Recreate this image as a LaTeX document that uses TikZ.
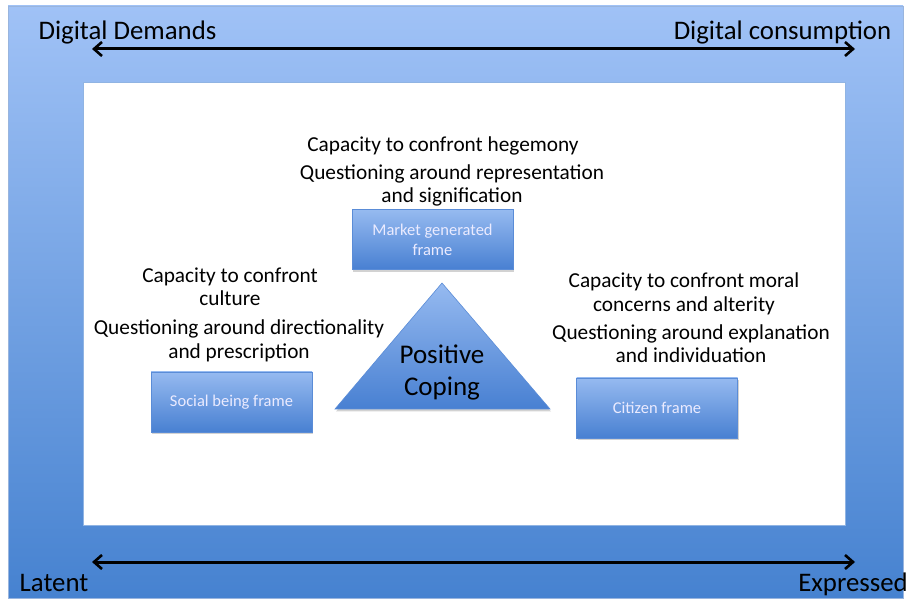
\documentclass[tikz,border=0pt]{standalone}
\usepackage{fontspec}
\setmainfont{Carlito}
\usetikzlibrary{shadows,arrows.meta}
\definecolor{bgtop}{RGB}{160,194,246}
\definecolor{bgbot}{RGB}{70,130,208}
\definecolor{bxtop}{RGB}{150,186,240}
\definecolor{bxbot}{RGB}{72,128,210}
\definecolor{bxline}{RGB}{90,140,215}
\tikzset{
  lbl/.style={anchor=base, inner sep=0pt, font=\fontsize{21.3}{25}\selectfont},
  corner/.style={anchor=base, inner sep=0pt, font=\fontsize{26.8}{30}\selectfont},
  frame/.style={draw=bxline, line width=0.6pt, top color=bxtop, bottom color=bxbot,
    drop shadow={opacity=0.35, shadow xshift=1pt, shadow yshift=-2.5pt},
    text=white!92!blue, font=\fontsize{16.5}{20}\selectfont, align=center,
    minimum width=161pt, minimum height=60pt, inner sep=0pt},
  axis/.style={line width=3pt, {Straight Barb[length=8pt,width=14pt,line width=2.6pt]}-{Straight Barb[length=8pt,width=14pt,line width=2.6pt]}}
}
\begin{document}
\begin{tikzpicture}[x=1pt,y=-1pt]
\useasboundingbox (0,0) rectangle (908,601);
\fill[white] (0,0) rectangle (908,601);
% outer gradient frame
\shade[top color=bgtop, bottom color=bgbot, draw=bgtop!80!gray, line width=0.5pt] (8,6) rectangle (903,598);
% inner white
\fill[white] (83,82) rectangle (845,525);
\draw[bgbot!60!white, line width=0.4pt] (83,82) rectangle (845,525);
% axes
\coordinate (tl) at (92,49);
\coordinate (tr) at (855,49);
\coordinate (bl) at (92,562);
\coordinate (br) at (855,562);
\draw[axis] (tl) -- (tr);
\draw[axis] (bl) -- (br);
\node[corner] (dd) at (127.5,40) {Digital Demands};
\node[corner] (dc) at (782.5,40) {Digital consumption};
\node[corner] (lat) at (54,591) {Latent};
\node[corner] (exp) at (853,591) {Expressed};
% frames
\node[frame] (mkt) at (432.5,239.5) {Market generated\\frame};
\node[frame] (soc) at (231.5,402) {Social being frame};
\node[frame] (cit) at (657,408) {Citizen frame};
% triangle
\coordinate (ta) at (442,283);
\coordinate (tbl) at (335,409);
\coordinate (tbr) at (550,409);
\draw[draw=bxline, line width=0.6pt, top color=bxtop, bottom color=bxbot,
  drop shadow={opacity=0.35, shadow xshift=1pt, shadow yshift=-2.5pt}] (ta) -- (tbr) -- (tbl) -- cycle;
\node[anchor=base, inner sep=0pt, font=\fontsize{27}{32}\selectfont] (pos) at (442,364) {Positive};
\node[anchor=base, inner sep=0pt, font=\fontsize{27}{32}\selectfont] (cop) at (442,396) {Coping};
% top text
\node[lbl] (t1) at (443,152) {Capacity to confront hegemony};
\node[lbl] (t2) at (452,180) {Questioning around representation};
\node[lbl] (t3) at (452,203) {and signification};
% left text
\node[lbl] (l1) at (230,283) {Capacity to confront};
\node[lbl] (l2) at (230,306) {culture};
\node[lbl] (l3) at (239,335) {Questioning around directionality};
\node[lbl] (l4) at (239,359) {and prescription};
% right text
\node[lbl] (r1) at (684,288) {Capacity to confront moral};
\node[lbl] (r2) at (684,312) {concerns and alterity};
\node[lbl] (r3) at (691,340) {Questioning around explanation};
\node[lbl] (r4) at (691,363) {and individuation};
\end{tikzpicture}
\end{document}
